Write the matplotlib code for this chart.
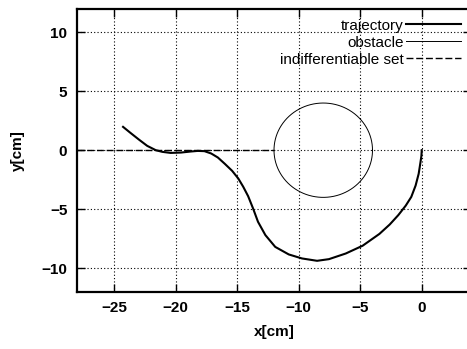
import matplotlib
matplotlib.use("Agg")
import matplotlib.pyplot as plt
import numpy as np

plt.rcParams['font.family'] = ['Liberation Sans', 'DejaVu Sans']

# trajectory, from the start (0,0) back to (-24,2)
traj_x = [0.0, -0.03, -0.1, -0.25, -0.5, -0.85, -1.3, -1.9, -2.6, -3.44, -4.8, -6.17,
          -7.54, -8.5, -9.73, -10.8, -11.9, -12.7, -13.3, -13.7, -14.1, -14.5,
          -14.9, -15.4, -16.0, -16.56, -17.1, -17.65, -18.2, -18.75, -19.56, -20.4,
          -21.07, -21.6, -22.3, -22.97, -23.66, -24.26]
traj_y = [0.0, -0.5, -1.0, -2.0, -3.0, -3.96, -4.7, -5.5, -6.3, -7.1, -8.1, -8.76,
          -9.24, -9.38, -9.18, -8.84, -8.2, -7.2, -6.07, -4.94, -3.9, -3.1,
          -2.4, -1.75, -1.15, -0.62, -0.28, -0.08, -0.06, -0.11, -0.2, -0.23,
          -0.14, 0.0, 0.37, 0.9, 1.47, 1.98]

obst_center = (-8.0, 0.0)
obst_radius = 4.0

# indifferentiable set: y = 0 left of the obstacle
indiff_x = [-28.0, -12.0]
indiff_y = [0.0, 0.0]

xticks = [-25, -20, -15, -10, -5, 0]
yticks = [-10, -5, 0, 5, 10]

fig = plt.figure(figsize=(4.67, 3.49), dpi=100)
ax = fig.add_axes([77 / 467, 1 - 291.7 / 349, 394 / 467, 283 / 349])

ax.plot(traj_x, traj_y, color='black', lw=1.5, solid_joinstyle='round', label='trajectory')
th = np.linspace(0, 2 * np.pi, 200)
ax.plot(obst_center[0] + obst_radius * np.cos(th), obst_center[1] + obst_radius * np.sin(th),
        color='black', lw=0.7, label='obstacle')
ax.plot(indiff_x, indiff_y, color='black', lw=1.0, ls=(0, (5, 2)), label='indifferentiable set')

ax.set_xlim(-28, 4)
ax.set_ylim(-12, 12)
ax.set_xticks(xticks)
ax.set_yticks(yticks)
ax.grid(True, color='black', ls=(0, (1, 2)), lw=0.8)
ax.tick_params(direction='in', length=6, width=1, top=True, right=True, pad=7,
               labelsize=11)
for lab in ax.get_xticklabels() + ax.get_yticklabels():
    lab.set_fontweight('bold')
for s in ax.spines.values():
    s.set_linewidth(1.6)

ax.set_xlabel('x[cm]', fontsize=11, fontweight='bold', labelpad=7)
ax.set_ylabel('y[cm]', fontsize=11, fontweight='bold', labelpad=12)

leg = ax.legend(loc='upper right', frameon=False, markerfirst=False, fontsize=11,
                handlelength=3.6, handletextpad=0.15, labelspacing=0.2,
                borderaxespad=0.6, borderpad=0.05)
for col in leg._legend_handle_box.get_children():
    col.align = 'right'

fig.savefig('out.png', dpi=100)
